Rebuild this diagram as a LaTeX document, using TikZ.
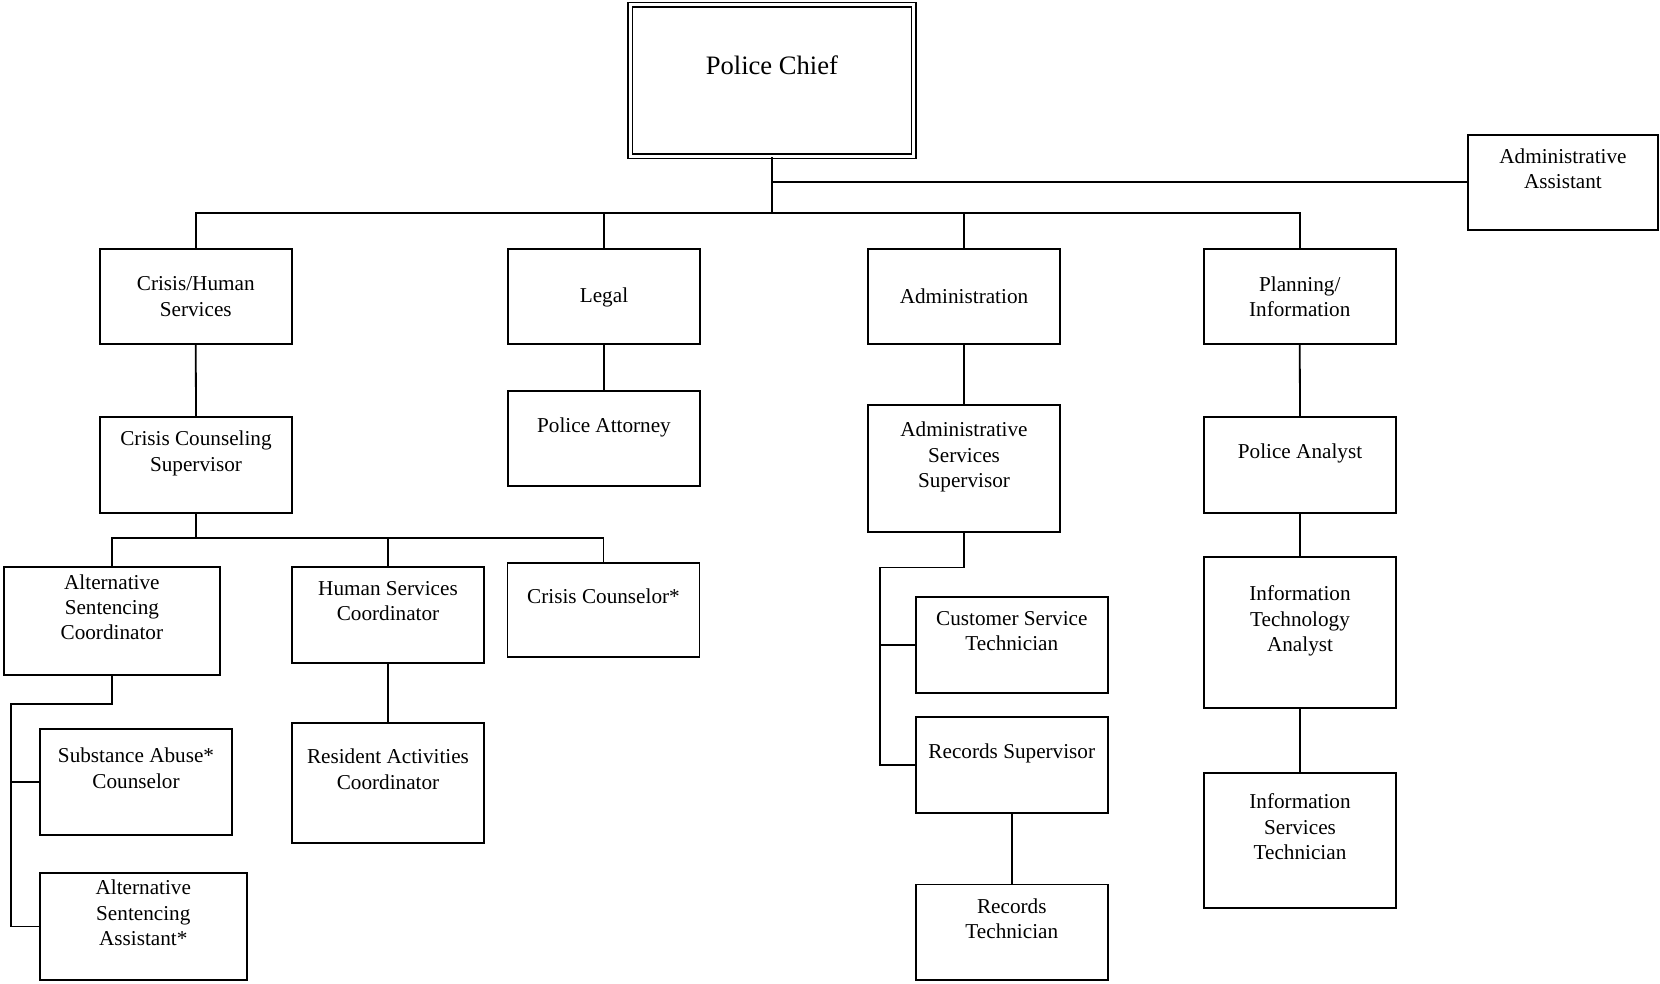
\documentclass[tikz,border=0pt]{standalone}
\usepackage{fontspec}
\setmainfont{Liberation Serif}
\newcommand\padline[1]{\\\rule[-#1]{0pt}{#1}}
\begin{document}
\begin{tikzpicture}[x=1pt,y=-1pt,
  box/.style={draw, line width=1.8pt, inner sep=0pt, align=center,
    font=\fontsize{21.2}{25.4}\selectfont, minimum width=192pt, minimum height=95pt},
  conn/.style={line width=1.8pt}]
\useasboundingbox (0,0) rectangle (1660,984);
% top
\node[draw, double, line width=1.5pt, double distance=3pt, inner sep=0pt, align=center,
  font=\fontsize{26.6}{32}\selectfont, minimum width=283.8pt, minimum height=151.3pt]
  (chief) at (771.9,80.65) {Police Chief\padline{0pt}};
\node[box, minimum width=190.6pt, minimum height=95.3pt] (aa) at (1563,182.4) {Administrative\\Assistant\padline{2pt}};
% level 1
\node[box] (crisis) at (195.75,296.5) {Crisis/Human\\Services};
\node[box, text depth=2pt] (legal) at (604,296.5) {Legal};
\node[box] (admin) at (964,296.5) {Administration};
\node[box] (plan) at (1299.75,296.5) {Planning/\\Information};
% level 2
\node[box, minimum height=96pt] (ccs) at (196,464.75) {Crisis Counseling\\Supervisor\padline{2pt}};
\node[box, minimum height=95.7pt] (pa) at (604,438.5) {Police Attorney\padline{2pt}};
\node[box, minimum height=127pt] (ads) at (964,468.4) {Administrative\\Services\\Supervisor\padline{2pt}};
\node[box, minimum height=96pt] (pan) at (1300,464.75) {Police Analyst\padline{2pt}};
% level 3
\node[box, minimum width=216.3pt, minimum height=108.2pt] (asc) at (111.85,620.9) {Alternative\\Sentencing\\Coordinator\padline{2pt}};
\node[box, minimum height=96pt] (hsc) at (388,614.8) {Human Services\\Coordinator\padline{2pt}};
\node[box, minimum height=93.7pt] (cc) at (603.5,609.85) {Crisis Counselor*\padline{2pt}};
\node[box, minimum height=105.6pt] (sac) at (136,781.8) {Substance Abuse*\\Counselor\padline{2pt}};
\node[box, minimum width=206.6pt, minimum height=107pt] (asa) at (143.3,926.5) {Alternative\\Sentencing\\Assistant*\padline{2pt}};
\node[box, minimum height=120pt] (rac) at (388,783) {Resident Activities\\Coordinator\padline{2pt}};
\node[box, minimum height=96.4pt] (cst) at (1011.8,644.8) {Customer Service\\Technician\padline{2pt}};
\node[box, minimum height=96pt] (rs) at (1011.8,764.8) {Records Supervisor\padline{2pt}};
\node[box, minimum height=95.6pt] (rt) at (1011.8,932.2) {Records\\Technician\padline{2pt}};
\node[box, minimum height=151pt] (ita) at (1300,632.5) {Information\\Technology\\Analyst\padline{2pt}};
\node[box, minimum height=134.7pt] (ist) at (1300,840.35) {Information\\Services\\Technician\padline{2pt}};
% coordinates
\coordinate (bus) at (772,213);
\coordinate (ccsbus) at (196,538);
\coordinate (ascturn) at (11,704);
\coordinate (adsturn) at (880,567.5);
% connectors
\draw[conn] (chief.south) -- (bus);
\draw[conn] (chief.south |- aa.west) -- (aa.west);
\draw[conn] (bus) -| (crisis.north);
\draw[conn] (bus) -| (legal.north);
\draw[conn] (bus) -| (admin.north);
\draw[conn] (bus) -| (plan.north);
\draw[conn] (crisis.south) -- (ccs.north);
\draw[conn] (legal.south) -- (pa.north);
\draw[conn] (admin.south) -- (ads.north);
\draw[conn] (plan.south) -- (pan.north);
\draw[conn] (pan.south) -- (ita.north);
\draw[conn] (ita.south) -- (ist.north);
\draw[conn] (ccs.south) -- (ccsbus);
\draw[conn] (ccsbus) -| (asc.north);
\draw[conn] (ccsbus) -| (hsc.north);
\draw[conn] (ccsbus) -| (cc.north);
\draw[conn] (hsc.south) -- (rac.north);
\draw[conn] (asc.south) |- (ascturn) |- (asa.west);
\draw[conn] (ascturn |- sac.west) -- (sac.west);
\draw[conn] (ads.south) |- (adsturn) |- (rs.west);
\draw[conn] (adsturn |- cst.west) -- (cst.west);
\draw[conn] (rs.south) -- (rt.north);
\end{tikzpicture}
\end{document}
